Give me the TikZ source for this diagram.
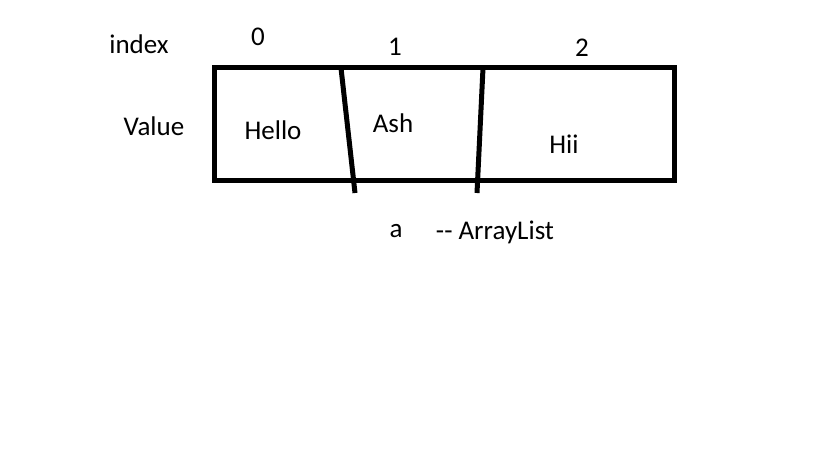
\documentclass[tikz,border=0pt]{standalone}
\usepackage{fontspec}
\setmainfont{Carlito}
\usetikzlibrary{calc}
\newcommand{\cellfont}{\fontsize{27}{32}\selectfont}
\tikzset{
    lbl/.style={inner sep=0pt, font=\cellfont},
    arraybox/.style={draw, line width=5pt, rectangle, minimum width=460pt, minimum height=112pt, inner sep=0pt},
    divider/.style={line width=5pt}
}
\begin{document}
\begin{tikzpicture}[x=1pt,y=-1pt]
    \useasboundingbox (0,0) rectangle (819,460);

    % header row
    \node[lbl] (index) at (139,44) {index};
    \node[lbl] (i0) at (258,37) {0};
    \node[lbl] (i1) at (395,47) {1};
    \node[lbl] (i2) at (582,48) {2};

    % the array
    \node[lbl] (value) at (154,126) {Value};
    \node[arraybox] (arr) at (444,124) {};
    \coordinate (d1-top) at (341,68);
    \coordinate (d1-bot) at (355,193);
    \coordinate (d2-top) at (483,68);
    \coordinate (d2-bot) at (477,193);
    \draw[divider] (d1-top) -- (d1-bot);
    \draw[divider] (d2-top) -- (d2-bot);

    \node[lbl] (hello) at (273,130) {Hello};
    \node[lbl] (ash) at (393,123) {Ash};
    \node[lbl] (hii) at (564,144) {Hii};

    % variable name
    \node[lbl] (var) at (396,231) {a};
    \node[lbl] (type) at (495,232) {-{}- ArrayList};
\end{tikzpicture}
\end{document}
